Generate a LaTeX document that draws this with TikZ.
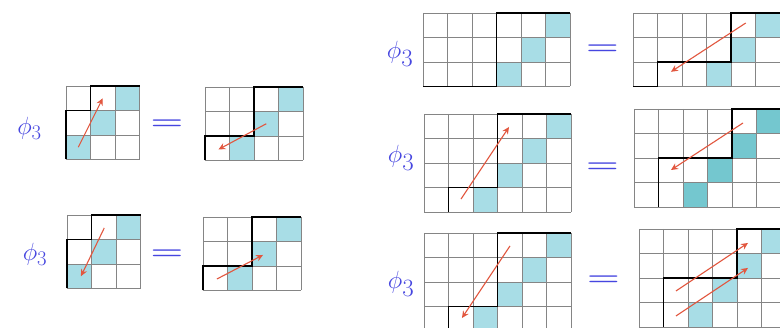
\documentclass[tikz,border=0pt]{standalone}
\usepackage{graphicx}
\usetikzlibrary{arrows.meta}
\definecolor{shadelight}{HTML}{A8DDE6}
\definecolor{shadedark}{HTML}{74C7CF}
\definecolor{arrowred}{HTML}{E2573F}
\definecolor{phiblue}{HTML}{4646E0}
\definecolor{gridgray}{HTML}{858585}
\tikzset{
  gridline/.style={draw=gridgray, line width=0.7pt},
  pathline/.style={draw=black, line width=1.9pt, line join=miter},
  redarrow/.style={draw=arrowred, line width=1.1pt, -{Stealth[length=7pt,width=6.5pt]}},
  philabel/.style={text=phiblue, font=\fontsize{31}{34}\selectfont, inner sep=0pt},
  philabelbig/.style={text=phiblue, font=\fontsize{33}{36}\selectfont, inner sep=0pt},
  eqlabel/.style={text=phiblue, font=\fontsize{40}{44}\selectfont\boldmath, inner sep=0pt},
}
\newcommand\eqsign{\scalebox{1.5}[1]{$=$}}
\newcommand\cellgrid[2]{%
  \foreach \i in {0,...,#1} \draw[gridline] (\i,0) -- (\i,#2);
  \foreach \j in {0,...,#2} \draw[gridline] (0,\j) -- (#1,\j);
}
\newcommand\cellfill[3]{\fill[#1] (#2,#3) rectangle ++(1,1);}
\begin{document}
\begin{tikzpicture}[x=1pt,y=-1pt]
\useasboundingbox (0,0) rectangle (780,328);
\clip (0,0) rectangle (780,328);
\fill[white] (0,0) rectangle (780,328);

% ---------- left column, row 1 ----------
\node[philabel] (phiA) at (29.5,128) {$\phi_3$};
\begin{scope}[shift={(66,86)}, x=24.5pt, y=-24.5pt]
  \cellfill{shadelight}{2}{0}\cellfill{shadelight}{1}{1}\cellfill{shadelight}{0}{2}
  \cellgrid{3}{3}
  \draw[pathline] (0,3) -- (0,1) -- (1,1) -- (1,0) -- (3,0);
  \coordinate (a1s) at (0.5,2.5); \coordinate (a1e) at (1.5,0.5);
  \draw[redarrow] (a1s) -- (a1e);
\end{scope}
\node[eqlabel] (eqA) at (167,125) {\eqsign};
\begin{scope}[shift={(205,87)}, x=24.5pt, y=-24.5pt]
  \cellfill{shadelight}{3}{0}\cellfill{shadelight}{2}{1}\cellfill{shadelight}{1}{2}
  \cellgrid{4}{3}
  \draw[pathline] (0,3) -- (0,2) -- (2,2) -- (2,0) -- (4,0);
  \coordinate (a2s) at (2.5,1.5); \coordinate (a2e) at (0.55,2.55);
  \draw[redarrow] (a2s) -- (a2e);
\end{scope}

% ---------- left column, row 2 ----------
\node[philabel] (phiB) at (35,254) {$\phi_3$};
\begin{scope}[shift={(67,215)}, x=24.5pt, y=-24.5pt]
  \cellfill{shadelight}{2}{0}\cellfill{shadelight}{1}{1}\cellfill{shadelight}{0}{2}
  \cellgrid{3}{3}
  \draw[pathline] (0,3) -- (0,1) -- (1,1) -- (1,0) -- (3,0);
  \coordinate (b1s) at (1.52,0.53); \coordinate (b1e) at (0.57,2.5);
  \draw[redarrow] (b1s) -- (b1e);
\end{scope}
\node[eqlabel] (eqB) at (167,254.5) {\eqsign};
\begin{scope}[shift={(203,217)}, x=24.5pt, y=-24.5pt]
  \cellfill{shadelight}{3}{0}\cellfill{shadelight}{2}{1}\cellfill{shadelight}{1}{2}
  \cellgrid{4}{3}
  \draw[pathline] (0,3) -- (0,2) -- (2,2) -- (2,0) -- (4,0);
  \coordinate (b2s) at (0.57,2.53); \coordinate (b2e) at (2.45,1.55);
  \draw[redarrow] (b2s) -- (b2e);
\end{scope}

% ---------- right column, row 1 ----------
\node[philabelbig] (phiC) at (400,54) {$\phi_3$};
\begin{scope}[shift={(423,13)}, x=24.5pt, y=-24.5pt]
  \cellfill{shadelight}{5}{0}\cellfill{shadelight}{4}{1}\cellfill{shadelight}{3}{2}
  \cellgrid{6}{3}
  \draw[pathline] (0,3) -- (3,3) -- (3,0) -- (6,0);
\end{scope}
\node[eqlabel] (eqC) at (602.5,49.5) {\eqsign};
\begin{scope}[shift={(633,13)}, x=24.5pt, y=-24.5pt]
  \cellfill{shadelight}{5}{0}\cellfill{shadelight}{4}{1}\cellfill{shadelight}{3}{2}
  \cellgrid{6}{3}
  \draw[pathline] (0,3) -- (1,3) -- (1,2) -- (4,2) -- (4,0) -- (6,0);
  \coordinate (c2s) at (4.6,0.41); \coordinate (c2e) at (1.55,2.4);
  \draw[redarrow] (c2s) -- (c2e);
\end{scope}

% ---------- right column, row 2 ----------
\node[philabelbig] (phiD) at (401,158) {$\phi_3$};
\begin{scope}[shift={(424,114)}, x=24.5pt, y=-24.5pt]
  \cellfill{shadelight}{5}{0}\cellfill{shadelight}{4}{1}\cellfill{shadelight}{3}{2}\cellfill{shadelight}{2}{3}
  \cellgrid{6}{4}
  \draw[pathline] (1,4) -- (1,3) -- (3,3) -- (3,0) -- (6,0);
  \coordinate (d1s) at (1.51,3.47); \coordinate (d1e) at (3.47,0.53);
  \draw[redarrow] (d1s) -- (d1e);
\end{scope}
\node[eqlabel] (eqD) at (602.5,167.5) {\eqsign};
\begin{scope}[shift={(634,109)}, x=24.5pt, y=-24.5pt]
  \cellfill{shadedark}{5}{0}\cellfill{shadedark}{4}{1}\cellfill{shadedark}{3}{2}\cellfill{shadedark}{2}{3}
  \cellgrid{6}{4}
  \draw[pathline] (1,4) -- (1,2) -- (4,2) -- (4,0) -- (6,0);
  \coordinate (d2s) at (4.45,0.57); \coordinate (d2e) at (1.51,2.49);
  \draw[redarrow] (d2s) -- (d2e);
\end{scope}

% ---------- right column, row 3 ----------
\node[philabelbig] (phiE) at (401,284) {$\phi_3$};
\begin{scope}[shift={(424,233)}, x=24.5pt, y=-24.5pt]
  \cellfill{shadelight}{5}{0}\cellfill{shadelight}{4}{1}\cellfill{shadelight}{3}{2}\cellfill{shadelight}{2}{3}
  \cellgrid{6}{4}
  \draw[pathline] (1,4) -- (1,3) -- (3,3) -- (3,0) -- (6,0);
  \coordinate (e1s) at (3.51,0.53); \coordinate (e1e) at (1.55,3.47);
  \draw[redarrow] (e1s) -- (e1e);
\end{scope}
\node[eqlabel] (eqE) at (603.5,281) {\eqsign};
\begin{scope}[shift={(639,229)}, x=24.5pt, y=-24.5pt]
  \cellfill{shadelight}{5}{0}\cellfill{shadelight}{4}{1}\cellfill{shadelight}{3}{2}\cellfill{shadelight}{2}{3}
  \cellgrid{6}{4}
  \draw[pathline] (1,4) -- (1,2) -- (4,2) -- (4,0) -- (6,0);
  \coordinate (e2s) at (1.51,2.53); \coordinate (e2e) at (4.45,0.57);
  \coordinate (e3s) at (1.51,3.55); \coordinate (e3e) at (4.45,1.59);
  \draw[redarrow] (e2s) -- (e2e);
  \draw[redarrow] (e3s) -- (e3e);
\end{scope}
\end{tikzpicture}
\end{document}
